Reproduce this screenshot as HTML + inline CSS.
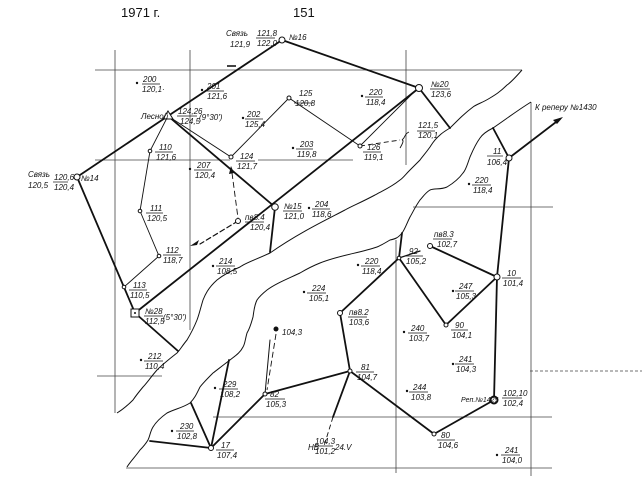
<!DOCTYPE html>
<html><head><meta charset="utf-8"><style>
html,body{margin:0;padding:0;background:#fff;}
svg{display:block;}
text{font-family:"Liberation Sans",sans-serif;font-style:italic;font-size:8px;fill:#111;}
.h{font-style:normal;font-size:13px;}
</style></head><body>
<svg width="642" height="486" viewBox="0 0 642 486" xmlns="http://www.w3.org/2000/svg">
<text class="h" x="121" y="17">1971 г.</text>
<text class="h" x="293" y="17">151</text>
<g stroke="#444" stroke-width="0.8" fill="none">
<line x1="95" y1="70" x2="522" y2="70"/>
<line x1="95" y1="160" x2="230" y2="160"/>
<line x1="258" y1="160" x2="353" y2="160"/>
<line x1="413" y1="207" x2="553" y2="207"/>
<line x1="530" y1="371" x2="642" y2="371" stroke-dasharray="3,2"/>
<line x1="97" y1="376" x2="162" y2="376"/>
<line x1="213" y1="417" x2="552" y2="417"/>
<line x1="126" y1="468" x2="552" y2="468"/>
<line x1="115" y1="50" x2="115" y2="413"/>
<line x1="190" y1="50" x2="190" y2="330"/>
<line x1="406" y1="50" x2="406" y2="165"/>
<line x1="396" y1="240" x2="396" y2="473"/>
<line x1="531" y1="102" x2="531" y2="476"/>
<line x1="227" y1="66" x2="236" y2="66" stroke-width="2"/>
</g>
<g stroke="#111" stroke-width="1" fill="none">
<path d="M522,70 C515,78 510,83 507,85 C500,92 495,95 490,98 C482,103 477,104 473,107 C465,113 460,118 450,128 C445,131 442,133 440,135 C434,140 432,144 430,147 C425,154 422,157 420,160 C415,165 412,168 410,170 C405,175 403,178 400,180 C390,188 380,192 375,195 C360,203 352,206 345,210 C330,218 300,232 270,253 C255,260 245,263 240,267 C228,272 222,276 217,280 C208,288 205,295 203,300 C200,310 199,315 197,320 C193,330 190,335 187,340 C182,346 180,350 177,353 C168,360 162,365 157,370 C150,378 147,383 143,387 C138,393 135,397 133,400 C127,406 122,410 117,413"/>
<path d="M531,102 C515,112 505,120 493,128 C485,132 482,135 480,138 C475,145 473,150 470,157 C467,165 466,170 463,173 C458,180 452,184 447,187 C440,190 435,188 430,190 C425,193 423,197 420,200 C415,207 413,212 410,217 C406,225 405,229 402,233 C398,238 395,239 390,240 C385,243 380,246 377,247 C360,253 340,255 320,263 C310,267 305,270 300,273 C285,280 275,284 267,290 C262,294 259,297 257,300 C254,306 254,311 253,317 C251,324 250,328 247,333 C245,340 245,344 243,347 C240,353 235,356 230,360 C222,366 217,370 213,373 C207,379 203,383 200,387 C197,393 195,398 190,403 C182,408 175,409 167,413 C160,418 156,422 153,427 C150,432 150,436 148,440 C145,445 143,447 140,450 C135,457 130,462 127,467"/>
</g>
<g stroke="#111" stroke-width="1.8" fill="none" stroke-linecap="round">
<line x1="282" y1="40" x2="168" y2="116"/>
<line x1="282" y1="40" x2="419" y2="88"/>
<line x1="168" y1="116" x2="77" y2="177"/>
<line x1="77" y1="177" x2="135" y2="313"/>
<line x1="135" y1="313" x2="178" y2="351"/>
<line x1="135" y1="313" x2="419" y2="88"/>
<line x1="168" y1="116" x2="275" y2="207"/>
<line x1="275" y1="207" x2="270" y2="252"/>
<line x1="419" y1="88" x2="450" y2="128"/>
<line x1="509" y1="158" x2="493" y2="128"/>
<line x1="509" y1="158" x2="497" y2="277"/>
<line x1="497" y1="277" x2="430" y2="246"/>
<line x1="497" y1="277" x2="446" y2="325"/>
<line x1="446" y1="325" x2="399" y2="258"/>
<line x1="399" y1="258" x2="402" y2="233"/>
<line x1="399" y1="258" x2="420" y2="251" stroke-width="1.2"/>
<line x1="399" y1="258" x2="340" y2="313"/>
<line x1="340" y1="313" x2="350" y2="371"/>
<line x1="350" y1="371" x2="434" y2="434"/>
<line x1="434" y1="434" x2="494" y2="400"/>
<line x1="494" y1="400" x2="497" y2="277"/>
<line x1="350" y1="371" x2="265" y2="394"/>
<line x1="350" y1="371" x2="333" y2="417"/>
<line x1="265" y1="394" x2="211" y2="448"/>
<line x1="265" y1="394" x2="270" y2="340" stroke-width="1"/>
<line x1="211" y1="448" x2="229" y2="360"/>
<line x1="211" y1="448" x2="191" y2="403"/>
<line x1="211" y1="448" x2="150" y2="441"/>
<line x1="238" y1="221" x2="200" y2="244" stroke-width="1.2" stroke-dasharray="5,3"/>
<line x1="509" y1="158" x2="560" y2="119"/>
</g>
<polygon points="563,117 553,120 557,124" fill="#111"/>
<polygon points="190,246 199,240 197,245" fill="#111"/>
<g stroke="#111" stroke-width="0.9" fill="none">
<polyline points="168,116 150,151 140,211 159,256 124,287 135,313"/>
<polyline points="168,116 231,157 289,98 360,146"/>
<line x1="360" y1="146" x2="416" y2="90"/>
<path d="M360,146 L400,140" stroke-dasharray="5,3"/>
<path d="M402,140 C406,137 404,134 409,132"/>
<path d="M400,148 C403,143 404,140 402,140"/>
<path d="M232,173 L238,218" stroke-dasharray="6,3"/>
<path d="M276,334 L267,390" stroke-dasharray="6,3"/>
<path d="M333,417 L324,446" stroke-dasharray="5,3"/>
</g>
<polygon points="231,166 229,174 234,173" fill="#111"/>
<g fill="#fff" stroke="#111" stroke-width="1">
<circle cx="282" cy="40" r="3"/><circle cx="419" cy="88" r="3.5"/>
<polygon points="168,111 173,119 163,119"/>
<circle cx="77" cy="177" r="3"/><circle cx="275" cy="207" r="3.3"/>
<circle cx="509" cy="158" r="3"/><circle cx="497" cy="277" r="3"/>
<rect x="131" y="309" width="8" height="8"/>
<circle cx="150" cy="151" r="1.8"/><circle cx="140" cy="211" r="1.8"/><circle cx="159" cy="256" r="1.8"/><circle cx="124" cy="287" r="1.8"/>
<circle cx="231" cy="157" r="2"/><circle cx="289" cy="98" r="2"/><circle cx="360" cy="146" r="2"/>
<circle cx="238" cy="221" r="2.5"/><circle cx="430" cy="246" r="2.5"/><circle cx="340" cy="313" r="2.5"/>
<circle cx="399" cy="258" r="1.8"/><circle cx="446" cy="325" r="2"/><circle cx="350" cy="371" r="2"/>
<circle cx="434" cy="434" r="2"/><circle cx="265" cy="394" r="2"/><circle cx="211" cy="448" r="2.5"/>
<circle cx="494" cy="400" r="3.5" stroke-width="2"/>
</g>
<circle cx="135" cy="313" r="1" fill="#111"/>
<circle cx="276" cy="329" r="2.5" fill="#111"/>
<g fill="#111">
<circle cx="137" cy="83" r="1.2"/><circle cx="202" cy="90" r="1.2"/><circle cx="243" cy="118" r="1.2"/>
<circle cx="362" cy="96" r="1.2"/><circle cx="293" cy="148" r="1.2"/><circle cx="190" cy="169" r="1.2"/>
<circle cx="469" cy="184" r="1.2"/><circle cx="309" cy="208" r="1.2"/><circle cx="213" cy="266" r="1.2"/>
<circle cx="358" cy="265" r="1.2"/><circle cx="304" cy="292" r="1.2"/><circle cx="453" cy="291" r="1.2"/>
<circle cx="404" cy="332" r="1.2"/><circle cx="141" cy="360" r="1.2"/><circle cx="453" cy="364" r="1.2"/>
<circle cx="215" cy="388" r="1.2"/><circle cx="407" cy="391" r="1.2"/><circle cx="172" cy="431" r="1.2"/>
<circle cx="497" cy="455" r="1.2"/>
</g>
<g stroke="#111" stroke-width="0.7">
<line x1="256" y1="38" x2="275" y2="38"/><line x1="142" y1="84" x2="160" y2="84"/><line x1="206" y1="91" x2="224" y2="91"/>
<line x1="177" y1="116" x2="197" y2="116"/><line x1="245" y1="119" x2="263" y2="119"/><line x1="294" y1="103" x2="312" y2="103"/>
<line x1="365" y1="97" x2="383" y2="97"/><line x1="430" y1="89" x2="450" y2="89"/><line x1="155" y1="152" x2="173" y2="152"/>
<line x1="236" y1="161" x2="255" y2="161"/><line x1="296" y1="149" x2="313" y2="149"/><line x1="417" y1="131" x2="435" y2="131"/>
<line x1="363" y1="152" x2="381" y2="152"/><line x1="194" y1="170" x2="212" y2="170"/><line x1="53" y1="182" x2="68" y2="182"/>
<line x1="487" y1="156" x2="503" y2="156"/><line x1="472" y1="185" x2="491" y2="185"/><line x1="146" y1="213" x2="163" y2="213"/>
<line x1="283" y1="211" x2="302" y2="211"/><line x1="312" y1="209" x2="330" y2="209"/><line x1="245" y1="222" x2="264" y2="222"/>
<line x1="163" y1="255" x2="181" y2="255"/><line x1="216" y1="266" x2="235" y2="266"/><line x1="433" y1="239" x2="452" y2="239"/>
<line x1="405" y1="256" x2="423" y2="256"/><line x1="361" y1="266" x2="380" y2="266"/><line x1="502" y1="278" x2="521" y2="278"/>
<line x1="129" y1="290" x2="147" y2="290"/><line x1="307" y1="293" x2="326" y2="293"/><line x1="455" y1="291" x2="474" y2="291"/>
<line x1="348" y1="317" x2="367" y2="317"/><line x1="144" y1="316" x2="163" y2="316"/><line x1="408" y1="333" x2="427" y2="333"/>
<line x1="451" y1="330" x2="468" y2="330"/><line x1="144" y1="361" x2="163" y2="361"/><line x1="455" y1="364" x2="474" y2="364"/>
<line x1="356" y1="372" x2="374" y2="372"/><line x1="219" y1="389" x2="238" y2="389"/><line x1="409" y1="392" x2="428" y2="392"/>
<line x1="502" y1="398" x2="522" y2="398"/><line x1="265" y1="399" x2="285" y2="399"/><line x1="176" y1="431" x2="194" y2="431"/>
<line x1="216" y1="450" x2="234" y2="450"/><line x1="437" y1="440" x2="455" y2="440"/><line x1="314" y1="446" x2="333" y2="446"/>
<line x1="501" y1="455" x2="520" y2="455"/>
</g>
<text x="226" y="36">Связь</text><text x="230" y="47">121,9</text>
<text x="257" y="36">121,8</text><text x="257" y="46">122,0</text><text x="289" y="40">№16</text>
<text x="143" y="82">200</text><text x="142" y="92">120,1·</text>
<text x="207" y="89">201</text><text x="207" y="99">121,6</text>
<text x="141" y="119">Лесной</text>
<text x="178" y="114">124,26</text><text x="180" y="124">124,5</text><text x="199" y="120">(9°30')</text>
<text x="247" y="117">202</text><text x="245" y="127">125,4</text>
<text x="299" y="96">125</text><text x="295" y="106">120,8</text>
<text x="369" y="95">220</text><text x="366" y="105">118,4</text>
<text x="431" y="87">№20</text><text x="431" y="97">123,6</text>
<text x="159" y="150">110</text><text x="156" y="160">121,6</text>
<text x="240" y="159">124</text><text x="237" y="169">121,7</text>
<text x="300" y="147">203</text><text x="297" y="157">119,8</text>
<text x="418" y="128">121,5</text><text x="418" y="138">120,1</text>
<text x="367" y="150">126</text><text x="364" y="160">119,1</text>
<text x="197" y="168">207</text><text x="195" y="178">120,4</text>
<text x="28" y="177">Связь</text><text x="28" y="188">120,5</text>
<text x="54" y="180">120,6</text><text x="54" y="190">120,4</text><text x="81" y="181">№14</text>
<text x="493" y="154">11</text><text x="487" y="165">106,4</text>
<text x="475" y="183">220</text><text x="473" y="193">118,4</text>
<text x="535" y="110">К реперу №1430</text>
<text x="150" y="211">111</text><text x="147" y="221">120,5</text>
<text x="284" y="209">№15</text><text x="284" y="219">121,0</text>
<text x="315" y="207">204</text><text x="312" y="217">118,6</text>
<text x="245" y="220">пв8.4</text><text x="250" y="230">120,4</text>
<text x="166" y="253">112</text><text x="163" y="263">118,7</text>
<text x="219" y="264">214</text><text x="217" y="274">108,5</text>
<text x="434" y="237">пв8.3</text><text x="437" y="247">102,7</text>
<text x="409" y="254">92</text><text x="406" y="264">105,2</text>
<text x="365" y="264">220</text><text x="362" y="274">118,4</text>
<text x="507" y="276">10</text><text x="503" y="286">101,4</text>
<text x="133" y="288">113</text><text x="130" y="298">110,5</text>
<text x="312" y="291">224</text><text x="309" y="301">105,1</text>
<text x="459" y="289">247</text><text x="456" y="299">105,3</text>
<text x="349" y="315">пв8.2</text><text x="349" y="325">103,6</text>
<text x="145" y="314">№28</text><text x="145" y="324">112,5</text><text x="163" y="320">(5°30')</text>
<text x="282" y="335">104,3</text>
<text x="411" y="331">240</text><text x="409" y="341">103,7</text>
<text x="455" y="328">90</text><text x="452" y="338">104,1</text>
<text x="148" y="359">212</text><text x="145" y="369">110,4</text>
<text x="459" y="362">241</text><text x="456" y="372">104,3</text>
<text x="361" y="370">81</text><text x="357" y="380">104,7</text>
<text x="223" y="387">229</text><text x="220" y="397">108,2</text>
<text x="413" y="390">244</text><text x="411" y="400">103,8</text>
<text x="461" y="402" style="font-size:7px">Реп.№1425</text>
<text x="503" y="396">102,10</text><text x="503" y="406">102,4</text>
<text x="270" y="397">82</text><text x="266" y="407">105,3</text>
<text x="180" y="429">230</text><text x="177" y="439">102,8</text>
<text x="221" y="448">17</text><text x="217" y="458">107,4</text>
<text x="441" y="438">80</text><text x="438" y="448">104,6</text>
<text x="308" y="450">НВ</text><text x="315" y="444">104,3</text><text x="315" y="454">101,2</text><text x="335" y="450">24.V</text>
<text x="505" y="453">241</text><text x="502" y="463">104,0</text>
</svg>
</body></html>
